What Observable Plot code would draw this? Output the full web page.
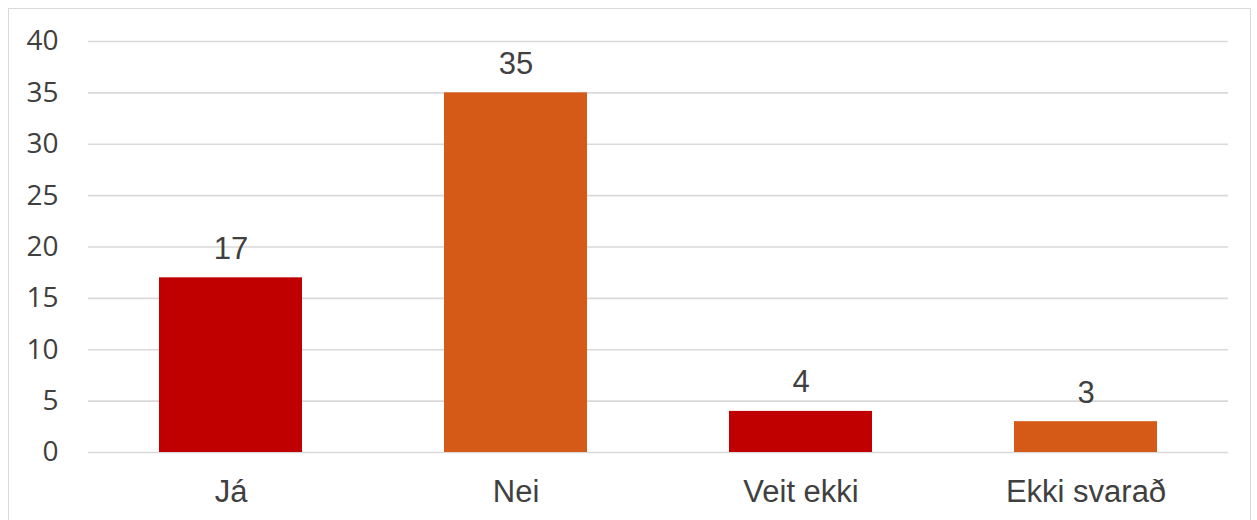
<!DOCTYPE html>
<html>
<head>
<meta charset="utf-8">
<script src="https://cdn.jsdelivr.net/npm/d3@7"></script>
<script src="https://cdn.jsdelivr.net/npm/@observablehq/plot@0.6"></script>
<style>
  html, body { margin: 0; padding: 0; background: #fff; }
  #wrap { position: relative; width: 1257px; height: 520px; overflow: hidden; }
  #frame { position: absolute; left: 8px; top: 8px; width: 1243px; height: 530px; border: 1.5px solid #d9d9d9; box-sizing: border-box; pointer-events: none; }
  #chart { position: absolute; left: 0; top: 0; }
</style>
</head>
<body>
<div id="wrap"><div id="frame"></div><div id="chart"></div></div>
<script>
const categories = ["Já", "Nei", "Veit ekki", "Ekki svarað"];
const values = [17, 35, 4, 3];
const barColors = ["#C00000", "#D55A17", "#C00000", "#D55A17"];
const yTicks = [0, 5, 10, 15, 20, 25, 30, 35, 40];

const data = categories.map((c, i) => ({category: c, value: values[i], color: barColors[i]}));

const chart = Plot.plot({
  width: 1257,
  height: 520,
  marginLeft: 88,
  marginRight: 29,
  marginTop: 41,
  marginBottom: 68,
  style: {background: "transparent", overflow: "visible"},
  x: {domain: categories, paddingInner: 0.5, paddingOuter: 0.25, label: null},
  y: {domain: [0, 40], label: null},
  marks: [
    Plot.gridY(yTicks, {stroke: "#d9d9d9", strokeOpacity: 1, strokeWidth: 1.6}),
    Plot.barY(data, {x: "category", y: "value", fill: "color"}),
    Plot.text(data, {x: "category", y: "value", text: d => String(d.value), lineAnchor: "bottom", dy: -19, fontSize: 31, fontFamily: "Liberation Sans, Arial, sans-serif", fill: "#404040"}),
    Plot.axisY(yTicks, {tickSize: 0, tickPadding: 30, fontSize: 28, fontFamily: "Open Sans, sans-serif", color: "#404040", label: null}),
    Plot.axisX({tickSize: 0, tickPadding: 27, fontSize: 31, fontFamily: "Liberation Sans, Arial, sans-serif", color: "#404040", label: null})
  ]
});
document.getElementById("chart").appendChild(chart);
</script>
</body>
</html>
